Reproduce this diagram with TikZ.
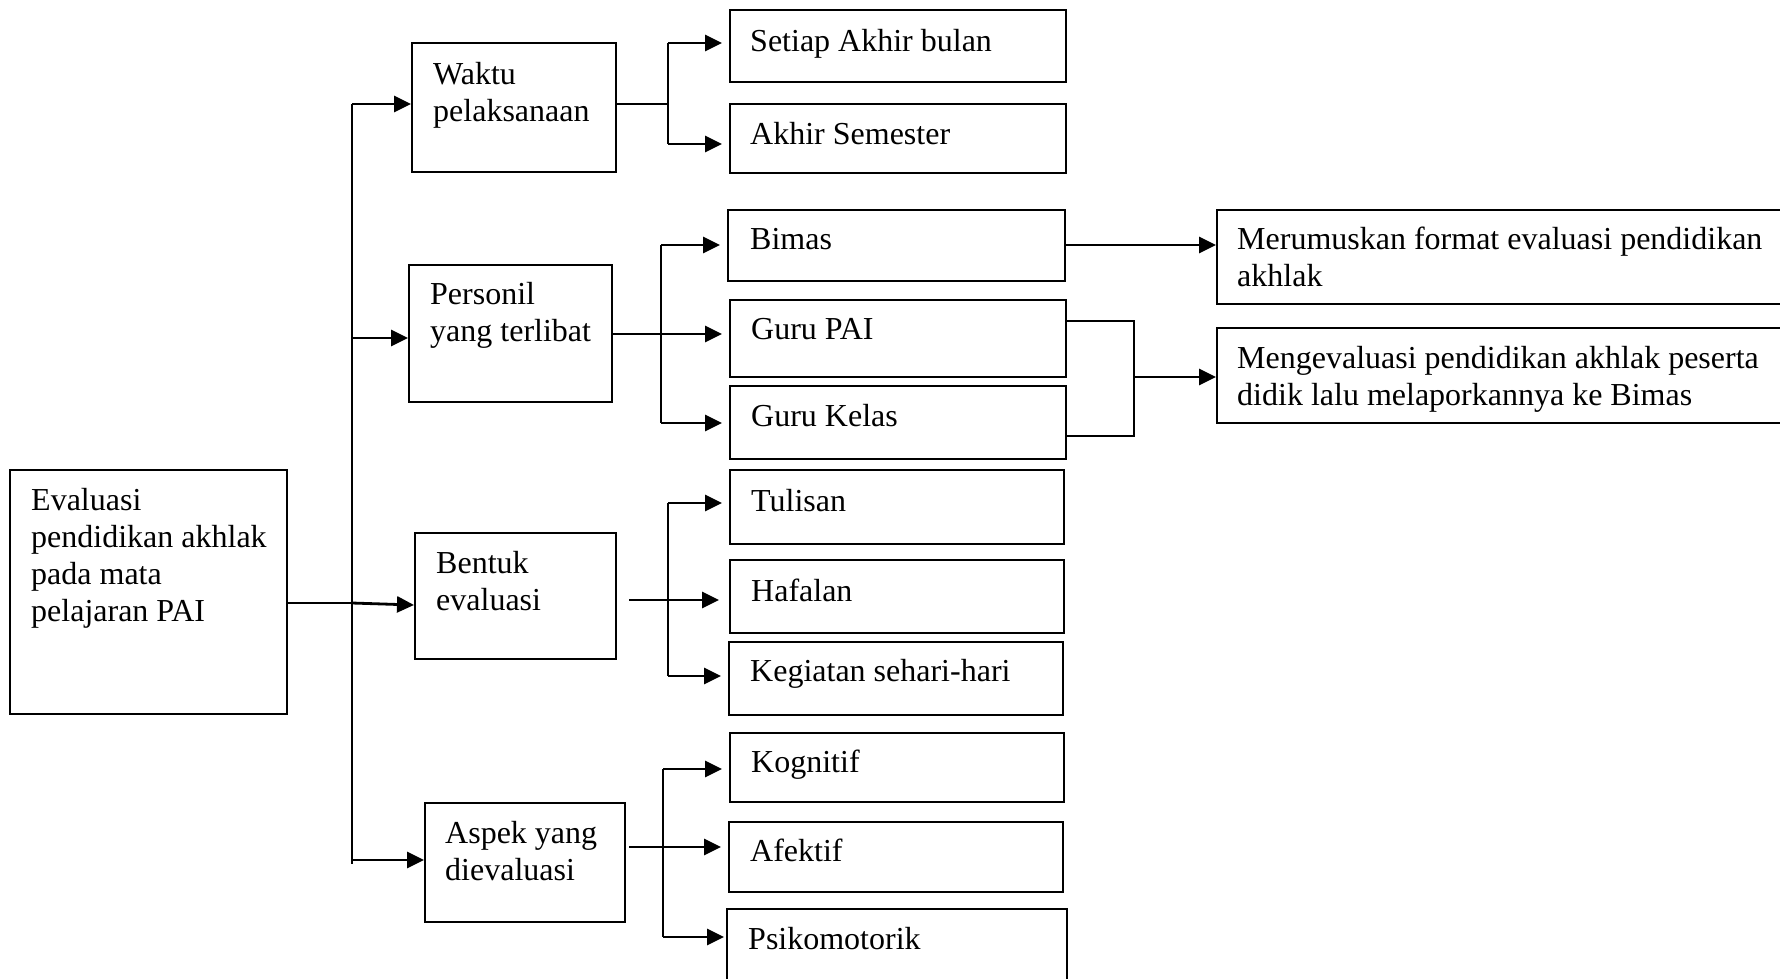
\documentclass[tikz,border=0pt]{standalone}
\usepackage{fontspec}
\setmainfont{Liberation Serif}
\usetikzlibrary{arrows.meta}
\newcommand\bx[5]{\node[box,minimum width={#4-#2},minimum height={#5-#3}] (#1) at ({(#2+#4)/2},{(#3+#5)/2}) {};}
\newcommand\tx[4]{\node[txt] (#1) at (#2,{#3-25.9}) {\strut #4};}
\begin{document}
\begin{tikzpicture}[x=1pt,y=-1pt,
  box/.style={draw,line width=2pt,inner sep=0pt,rectangle},
  txt/.style={font=\fontsize{32}{37}\selectfont,inner sep=0pt,anchor=north west,align=left},
  thin/.style={line width=1.6pt},
  arr/.style={line width=2.8pt,-{Triangle[length=17pt 0 0,width=16pt 0 0]}},
  arrs/.style={arr,shorten >=7pt}]
\clip (0,0) rectangle (1780,978);
\fill[white] (0,0) rectangle (1780,978);
% boxes
\bx{root}{10}{470}{287}{714}
\bx{waktu}{412}{43}{616}{172}
\bx{personil}{409}{265}{612}{402}
\bx{bentuk}{415}{533}{616}{659}
\bx{aspek}{425}{803}{625}{922}
\bx{setiap}{730}{10}{1066}{82}
\bx{akhir}{730}{104}{1066}{173}
\bx{bimas}{728}{210}{1065}{281}
\bx{gurupai}{730}{300}{1066}{377}
\bx{gurukelas}{730}{386}{1066}{459}
\bx{tulisan}{730}{470}{1064}{544}
\bx{hafalan}{730}{560}{1064}{633}
\bx{kegiatan}{729}{642}{1063}{715}
\bx{kognitif}{730}{733}{1064}{802}
\bx{afektif}{729}{822}{1063}{892}
\bx{psiko}{727}{909}{1067}{1000}
\bx{merumuskan}{1217}{210}{1800}{304}
\bx{mengevaluasi}{1217}{328}{1800}{423}
% texts
\tx{root-t}{31}{510}{Evaluasi\\pendidikan akhlak\\pada mata\\pelajaran PAI}
\tx{waktu-t}{433}{84}{Waktu\\pelaksanaan}
\tx{personil-t}{430}{304}{Personil\\yang terlibat}
\tx{bentuk-t}{436}{573}{Bentuk\\evaluasi}
\tx{aspek-t}{445}{843}{Aspek yang\\dievaluasi}
\tx{setiap-t}{750}{51}{Setiap Akhir bulan}
\tx{akhir-t}{750}{144}{Akhir Semester}
\tx{bimas-t}{750}{249}{Bimas}
\tx{gurupai-t}{751}{339}{Guru PAI}
\tx{gurukelas-t}{751}{426}{Guru Kelas}
\tx{tulisan-t}{751}{511}{Tulisan}
\tx{hafalan-t}{751}{601}{Hafalan}
\tx{kegiatan-t}{750}{681}{Kegiatan sehari-hari}
\tx{kognitif-t}{751}{772}{Kognitif}
\tx{afektif-t}{750}{861}{Afektif}
\tx{psiko-t}{748}{949}{Psikomotorik}
\tx{merumuskan-t}{1237}{249}{Merumuskan format evaluasi pendidikan\\akhlak}
\tx{mengevaluasi-t}{1237}{368}{Mengevaluasi pendidikan akhlak peserta\\didik lalu melaporkannya ke Bimas}
% coordinates
\coordinate (tTop) at (352,104);
\coordinate (tP) at (352,338);
\coordinate (tB) at (352,603);
\coordinate (tBot) at (352,864);
\coordinate (tA) at (352,860);
\coordinate (wJ) at (668,104);
\coordinate (wT) at (668,43);
\coordinate (wB) at (668,144);
\coordinate (pJ) at (661,334);
\coordinate (pT) at (661,245);
\coordinate (pB) at (661,423);
\coordinate (bS) at (629,600);
\coordinate (bT) at (668,503);
\coordinate (bM) at (668,600);
\coordinate (bB) at (668,676);
\coordinate (aS) at (629,847);
\coordinate (aT) at (663,769);
\coordinate (aM) at (663,847);
\coordinate (aB) at (663,937);
\coordinate (gT) at (1134,321);
\coordinate (gB) at (1134,436);
\coordinate (gM) at (1134,377);
% trunk
\draw[thin] (tTop) -- (tBot);
\draw[thin] (root.east |- tB) -- (tB);
\draw[arr] (tTop) -- (tTop -| waktu.west);
\draw[arr] (tP) -- (tP -| personil.west);
\draw[arr] (tB) -- (bentuk.west |- 0,605);
\draw[arr] (tA) -- (tA -| aspek.west);
% waktu
\draw[thin] (waktu.east |- wJ) -- (wJ);
\draw[thin] (wT) -- (wB);
\draw[arrs] (wT) -- (wT -| setiap.west);
\draw[arrs] (wB) -- (wB -| akhir.west);
% personil
\draw[thin] (personil.east |- pJ) -- (pJ);
\draw[thin] (pT) -- (pB);
\draw[arrs] (pT) -- (pT -| bimas.west);
\draw[arrs] (pJ) -- (pJ -| gurupai.west);
\draw[arrs] (pB) -- (pB -| gurukelas.west);
% bimas
\draw[arr] (bimas.east |- pT) -- (merumuskan.west |- pT);
\draw[thin] (gurupai.east |- gT) -- (gT) -- (gB) -- (gurukelas.east |- gB);
\draw[arr] (gM) -- (gM -| mengevaluasi.west);
% bentuk
\draw[thin] (bS) -- (bM);
\draw[thin] (bT) -- (bB);
\draw[arrs] (bT) -- (bT -| tulisan.west);
\draw[arrs,shorten >=10pt] (bM) -- (bM -| hafalan.west);
\draw[arrs] (bB) -- (bB -| kegiatan.west);
% aspek
\draw[thin] (aS) -- (aM);
\draw[thin] (aT) -- (aB);
\draw[arrs] (aT) -- (aT -| kognitif.west);
\draw[arrs] (aM) -- (aM -| afektif.west);
\draw[arrs,shorten >=2pt] (aB) -- (aB -| psiko.west);
\end{tikzpicture}
\end{document}
